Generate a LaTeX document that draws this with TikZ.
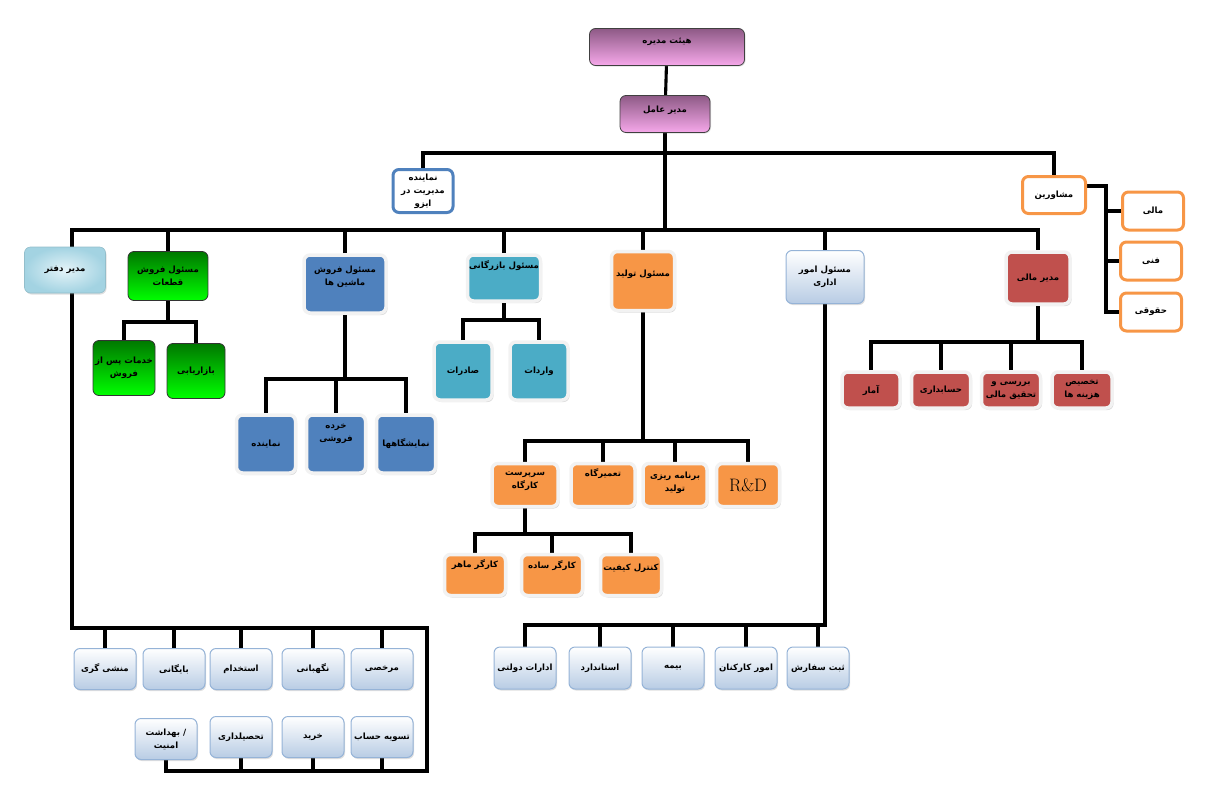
\documentclass[tikz,border=0pt]{standalone}
\usepackage{fontspec}
\newfontfamily\farsi[Script=Arabic]{DejaVu Sans}
\TeXXeTstate=1
\usepackage{xcolor}
\usepackage{tikz}
\usetikzlibrary{shadows, backgrounds, calc}

\definecolor{pinktop}{HTML}{8E5A86}
\definecolor{pinkbot}{HTML}{F6A8EA}
\definecolor{grntop}{HTML}{007800}
\definecolor{grnbot}{HTML}{00FF00}
\definecolor{carblue}{HTML}{4F81BD}
\definecolor{tradeteal}{HTML}{4BACC6}
\definecolor{prodorange}{HTML}{F79646}
\definecolor{finred}{HTML}{C0504D}
\definecolor{officein}{HTML}{E4F3F8}
\definecolor{officeout}{HTML}{A3D3E2}
\definecolor{admbot}{HTML}{B8CCE4}
\definecolor{admline}{HTML}{95B3D7}
\definecolor{rimgray}{HTML}{F2F2F2}

\newcommand{\rl}[1]{\beginR #1\endR}

\begin{document}
\begin{tikzpicture}[x=1pt, y=-1pt,
    box/.style={rectangle, rounded corners=6pt, align=center, inner sep=1pt,
        font=\farsi\bfseries\fontsize{8.6}{13}\selectfont},
    rim/.style={box, draw=rimgray, line width=3.5pt,
        drop shadow={shadow xshift=1.5pt, shadow yshift=-2pt, opacity=0.3}},
    toptext/.style={text depth=#1},
    boardbox/.style={box, top color=pinktop, bottom color=pinkbot, draw=black!75, line width=0.8pt,
        drop shadow={shadow xshift=1pt, shadow yshift=-1pt, opacity=0.25}},
    grnbox/.style={box, top color=grntop, bottom color=grnbot, draw=black!80, line width=0.8pt},
    carbox/.style={rim, fill=carblue},
    tradebox/.style={rim, fill=tradeteal},
    prodbox/.style={rim, fill=prodorange},
    finbox/.style={rim, fill=finred},
    officebox/.style={box, inner color=officein, outer color=officeout, draw=officeout!90!black, line width=0.6pt,
        drop shadow={shadow xshift=1pt, shadow yshift=-1.5pt, opacity=0.25}},
    admbox/.style={box, top color=white, bottom color=admbot, draw=admline, line width=1pt,
        drop shadow={shadow xshift=1pt, shadow yshift=-1.5pt, opacity=0.25}},
    isobox/.style={box, fill=white, draw=carblue, line width=3pt},
    advbox/.style={box, fill=white, draw=prodorange, line width=3pt, minimum width=61pt, minimum height=38pt},
    conn/.style={line width=3.1pt, black}
]
\useasboundingbox (0,0) rectangle (1223,790);

% Bar levels
\coordinate (topbar) at (0,153);
\coordinate (mainbar) at (0,230);
\coordinate (spine) at (1106,0);

% Board and CEO
\node[boardbox, minimum width=155pt, minimum height=37pt, toptext=12pt] (board) at (667,47) {\rl{هیئت مدیره}};
\node[boardbox, minimum width=90pt, minimum height=37pt, toptext=10pt] (ceo) at (665,114) {\rl{مدیر عامل}};

% ISO representative and advisors
\node[isobox, minimum width=60pt, minimum height=43pt] (iso) at (423,191) {\rl{نماینده}\\\rl{مدیریت در}\\\rl{ایزو}};
\node[advbox, minimum width=63pt, minimum height=37pt] (advisors) at (1054,195) {\rl{مشاورین}};
\node[advbox] (advfin) at (1153,211) {\rl{مالی}};
\node[advbox] (advtech) at (1151,261) {\rl{فنی}};
\node[advbox] (advlegal) at (1151,312) {\rl{حقوقی}};

% Department heads
\node[officebox, minimum width=81pt, minimum height=46pt] (office) at (65,270) {\rl{مدیر دفتر}};
\node[grnbox, minimum width=80pt, minimum height=49pt] (parts) at (168,276) {\rl{مسئول فروش}\\\rl{قطعات}};
\node[carbox, minimum width=82pt, minimum height=58pt, toptext=16pt] (cars) at (345,284) {\rl{مسئول فروش}\\\rl{ماشین ها}};
\node[tradebox, minimum width=73pt, minimum height=46pt, toptext=26pt] (trade) at (504,278) {\rl{مسئول بازرگانی}};
\node[prodbox, minimum width=63pt, minimum height=59pt, toptext=16pt] (prod) at (643,281) {\rl{مسئول تولید}};
\node[admbox, minimum width=78pt, minimum height=53pt] (admin) at (825,277) {\rl{مسئول امور}\\\rl{اداری}};
\node[finbox, minimum width=64pt, minimum height=52pt] (finmgr) at (1038,278) {\rl{مدیر مالی}};

% Parts sales
\node[grnbox, minimum width=62pt, minimum height=55pt] (aftersales) at (124,368) {\rl{خدمات پس از}\\\rl{فروش}};
\node[grnbox, minimum width=58pt, minimum height=55pt] (marketing) at (196,371) {\rl{بازاریابی}};

% Car sales
\node[carbox, minimum width=59pt, minimum height=58pt] (agent) at (266,444) {\rl{نماینده}};
\node[carbox, minimum width=59pt, minimum height=58pt, toptext=22pt] (retail) at (336,444) {\rl{خرده}\\\rl{فروشی}};
\node[carbox, minimum width=59pt, minimum height=58pt] (expo) at (406,444) {\rl{نمایشگاهها}};

% Trade
\node[tradebox, minimum width=58pt, minimum height=58pt] (export) at (463,371) {\rl{صادرات}};
\node[tradebox, minimum width=58pt, minimum height=58pt] (import) at (539,371) {\rl{واردات}};

% Production
\node[prodbox, minimum width=66pt, minimum height=43pt, toptext=10pt] (super) at (525,485) {\rl{سرپرست}\\\rl{کارگاه}};
\node[prodbox, minimum width=64pt, minimum height=43pt, toptext=24pt] (repair) at (603,485) {\rl{تعمیرگاه}};
\node[prodbox, minimum width=64pt, minimum height=43pt, toptext=6pt] (plan) at (675,485) {\rl{برنامه ریزی}\\\rl{تولید}};
\node[prodbox, minimum width=63pt, minimum height=43pt, font=\rmfamily\mdseries\fontsize{18}{18}\selectfont] (rd) at (748,485) {R\&D};
\node[prodbox, minimum width=61pt, minimum height=41pt, toptext=22pt] (skilled) at (475,575) {\rl{کارگر ماهر}};
\node[prodbox, minimum width=61pt, minimum height=41pt, toptext=20pt] (simple) at (552,575) {\rl{کارگر ساده}};
\node[prodbox, minimum width=61pt, minimum height=41pt, toptext=16pt] (qc) at (631,575) {\rl{کنترل کیفیت}};

% Administration
\node[admbox, minimum width=62pt, minimum height=42pt] (gov) at (525,668) {\rl{ادارات دولتی}};
\node[admbox, minimum width=62pt, minimum height=42pt] (std) at (600,668) {\rl{استاندارد}};
\node[admbox, minimum width=62pt, minimum height=42pt] (insur) at (673,668) {\rl{بیمه}};
\node[admbox, minimum width=62pt, minimum height=42pt] (staff) at (746,668) {\rl{امور کارکنان}};
\node[admbox, minimum width=62pt, minimum height=42pt] (order) at (818,668) {\rl{ثبت سفارش}};

% Finance
\node[finbox, minimum width=58pt, minimum height=36pt] (stats) at (871,390) {\rl{آمار}};
\node[finbox, minimum width=59pt, minimum height=36pt] (acct) at (941,390) {\rl{حسابداری}};
\node[finbox, minimum width=59pt, minimum height=36pt] (research) at (1011,390) {\rl{بررسی و}\\\rl{تحقیق مالی}};
\node[finbox, minimum width=60pt, minimum height=36pt] (costs) at (1082,390) {\rl{تخصیص}\\\rl{هزینه ها}};

% Office units
\node[admbox, minimum width=62pt, minimum height=41pt] (secr) at (105,669) {\rl{منشی گری}};
\node[admbox, minimum width=62pt, minimum height=41pt] (archive) at (174,669) {\rl{بایگانی}};
\node[admbox, minimum width=62pt, minimum height=41pt] (hire) at (241,669) {\rl{استخدام}};
\node[admbox, minimum width=62pt, minimum height=41pt] (guard) at (313,669) {\rl{نگهبانی}};
\node[admbox, minimum width=62pt, minimum height=41pt] (leave) at (382,669) {\rl{مرخصی}};
\node[admbox, minimum width=62pt, minimum height=41pt] (health) at (166,739) {\rl{/ بهداشت}\\\rl{امنیت}};
\node[admbox, minimum width=62pt, minimum height=41pt] (cashier) at (241,737) {\rl{تحصیلداری}};
\node[admbox, minimum width=62pt, minimum height=41pt] (buy) at (313,737) {\rl{خرید}};
\node[admbox, minimum width=62pt, minimum height=41pt] (settle) at (382,737) {\rl{تسویه حساب}};

\coordinate (loopA) at (427,628);
\coordinate (loopB) at (427,771);

\begin{pgfonlayer}{background}
% Top connectors
\draw[conn] (board) -- (ceo);
\draw[conn] (ceo.south) -- (ceo.south |- mainbar);
\draw[conn] (iso.north) |- (advisors.north |- topbar) -- (advisors.north);
\draw[conn] ([yshift=9pt]advisors.east) -| (spine |- advlegal.west) -- (advlegal.west);
\foreach \n in {advfin, advtech}
    \draw[conn] (spine |- \n.west) -- (\n.west);

% Main bar
\draw[conn] ([xshift=7pt]office.north) |- (finmgr.north |- mainbar) -- (finmgr.north);
\foreach \n in {parts, cars, trade, prod, admin}
    \draw[conn] (\n.north) -- (\n.north |- mainbar);

% Parts sales
\draw[conn] (parts.south) -- (parts.south |- 0,322);
\draw[conn] (aftersales.north) |- (marketing.north |- 0,322) -- (marketing.north);

% Car sales
\draw[conn] (cars.south) -- (cars.south |- 0,379);
\draw[conn] (agent.north) |- (expo.north |- 0,379) -- (expo.north);
\draw[conn] (retail.north) -- (retail.north |- 0,379);

% Trade
\draw[conn] (trade.south) -- (trade.south |- 0,320);
\draw[conn] (export.north) |- (import.north |- 0,320) -- (import.north);

% Production
\draw[conn] (prod.south) -- (prod.south |- 0,441);
\draw[conn] (super.north) |- (rd.north |- 0,441) -- (rd.north);
\foreach \n in {repair, plan}
    \draw[conn] (\n.north) -- (\n.north |- 0,441);
\draw[conn] (super.south) -- (super.south |- 0,534);
\draw[conn] (skilled.north) |- (qc.north |- 0,534) -- (qc.north);
\draw[conn] (simple.north) -- (simple.north |- 0,534);

% Administration
\draw[conn] (admin.south) |- (gov.north |- 0,625) -- (gov.north);
\foreach \n in {std, insur, staff, order}
    \draw[conn] (\n.north) -- (\n.north |- 0,625);

% Finance
\draw[conn] (finmgr.south) -- (finmgr.south |- 0,342);
\draw[conn] (stats.north) |- (costs.north |- 0,342) -- (costs.north);
\foreach \n in {acct, research}
    \draw[conn] (\n.north) -- (\n.north |- 0,342);

% Office loop
\draw[conn] ([xshift=7pt]office.south) |- (loopA) -- (loopB) -| (health.south);
\foreach \n in {secr, archive, hire, guard, leave}
    \draw[conn] (\n.north) -- (\n.north |- loopA);
\foreach \n in {cashier, buy, settle}
    \draw[conn] (\n.south) -- (\n.south |- loopB);
\end{pgfonlayer}

\end{tikzpicture}
\end{document}
